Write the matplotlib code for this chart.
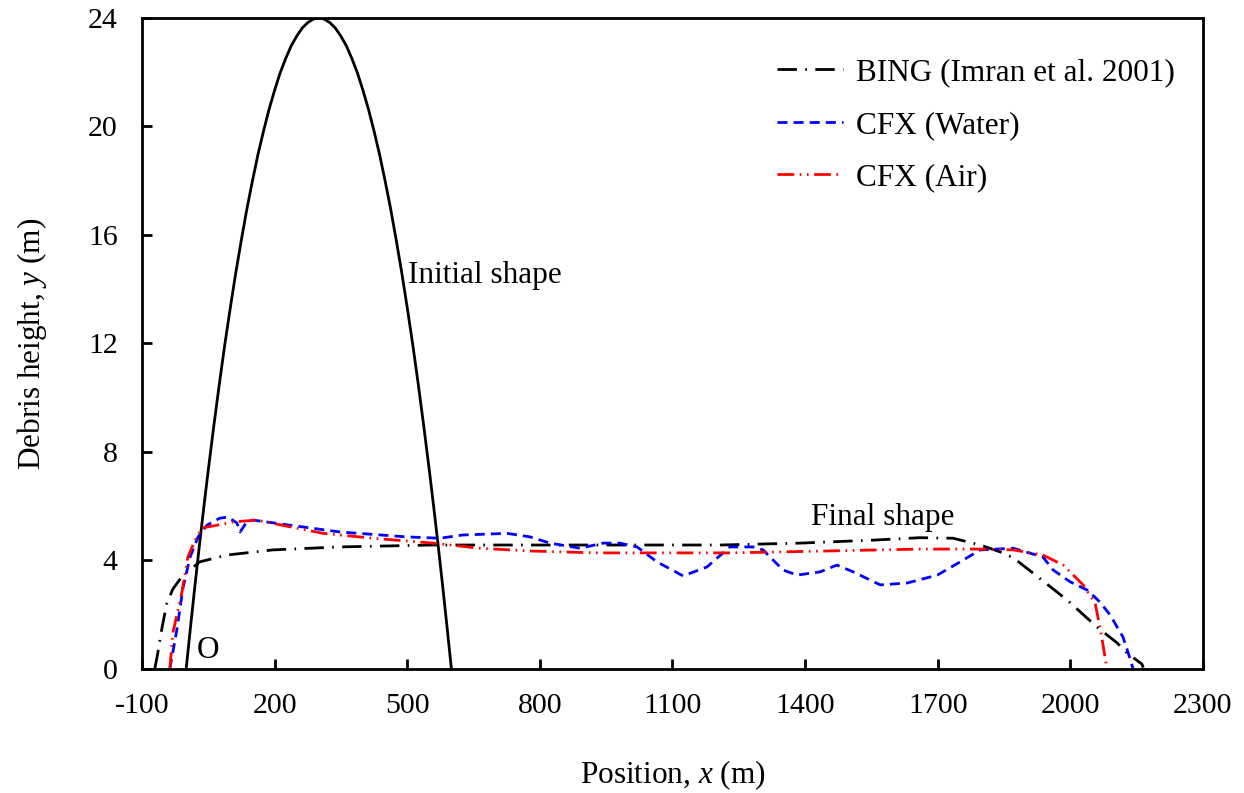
import numpy as np
import matplotlib
matplotlib.use('Agg')
from matplotlib import pyplot as plt
from matplotlib import rcParams

rcParams['font.family'] = 'Liberation Serif'
rcParams['mathtext.fontset'] = 'custom'
rcParams['mathtext.rm'] = 'Liberation Serif'
rcParams['mathtext.it'] = 'Liberation Serif:italic'
rcParams['axes.unicode_minus'] = False
rcParams['font.size'] = 22.5

# initial pile (mound)
init_x = [0, 10, 20, 30, 40, 50, 62.5, 75, 87.5, 100, 112.5, 125, 137.5, 150, 162.5, 175, 187.5,
          200, 212.5, 225, 237.5, 250, 262.5, 275, 287.5, 300,
          312.5, 325, 337.5, 350, 362.5, 375, 387.5, 400, 412.5, 425, 437.5, 450, 462.5,
          475, 487.5, 500, 512.5, 525, 537.5, 550, 560, 570, 580, 590, 600]
init_y = [0, 1.57, 3.09, 4.56, 5.97, 7.33, 8.95, 10.5, 11.97, 13.33, 14.63, 15.83, 16.97, 18.0,
          18.97, 19.83, 20.63, 21.33, 21.97, 22.5, 22.97, 23.33, 23.63, 23.83, 23.96, 24.0,
          23.96, 23.83, 23.63, 23.33, 22.97, 22.5, 21.97, 21.33, 20.63, 19.83, 18.97, 18.0, 16.97,
          15.83, 14.63, 13.33, 11.97, 10.5, 8.95, 7.33, 5.97, 4.56, 3.09, 1.57, 0]

# BING (Imran et al. 2001)
bing_x = [-71, -64, -56, -44, -30, -7, 31, 92, 196, 348, 558, 800, 1000, 1208, 1389,
          1554, 1660, 1735, 1796, 1841, 1871, 1916, 1993, 2060, 2106, 2128, 2162, 2165]
bing_y = [0, 0.6, 1.4, 2.4, 2.95, 3.46, 3.95, 4.2, 4.39, 4.5, 4.57, 4.57, 4.57, 4.57, 4.64,
          4.75, 4.84, 4.82, 4.57, 4.32, 4.1, 3.53, 2.54, 1.55, 0.96, 0.59, 0.18, 0.05]

# CFX (Water)
water_x = [-37, -21, -7, 9, 27, 47, 76, 95, 115, 122, 137, 151, 235, 348, 499, 574,
           626, 726, 778, 823, 891, 943, 981, 1020, 1065, 1124, 1178, 1230, 1282,
           1305, 1350, 1382, 1434, 1472, 1509, 1570, 1631, 1699, 1751, 1796, 1871,
           1938, 1961, 2000, 2038, 2067, 2090, 2119, 2131, 2142]
water_y = [0, 1.44, 3.0, 4.13, 4.87, 5.3, 5.56, 5.6, 5.38, 5.05, 5.42, 5.49, 5.3, 5.05, 4.87, 4.82,
           4.94, 5.0, 4.87, 4.64, 4.45, 4.64, 4.64, 4.5, 3.95, 3.43, 3.76, 4.5, 4.5,
           4.39, 3.65, 3.46, 3.58, 3.83, 3.58, 3.1, 3.17, 3.46, 3.95, 4.39, 4.45,
           4.13, 3.65, 3.21, 2.91, 2.47, 1.99, 1.18, 0.59, 0]

# CFX (Air)
air_x = [-37, -30, -10, 4, 20, 36, 70, 106, 160, 235, 310, 423, 558, 665, 778,
         929, 1079, 1230, 1450, 1660, 1796, 1871, 1938, 1984, 2029, 2056, 2067, 2074, 2083]
air_y = [0, 1.33, 2.8, 4.13, 4.75, 5.2, 5.3, 5.42, 5.49, 5.24, 5.0, 4.82, 4.64, 4.45, 4.35,
         4.28, 4.28, 4.28, 4.35, 4.42, 4.42, 4.39, 4.2, 3.83, 3.1, 2.43, 1.55, 0.88, 0]

fig = plt.figure(figsize=(12.44, 7.93), dpi=100)
ax = fig.add_axes([0.1141, 0.1564, 0.8529, 0.8209])

ax.plot(init_x, init_y, color='k', lw=2, ls='solid')
ax.plot(bing_x, bing_y, color='k', lw=2, ls=(0, (7, 3, 0.6, 3)), label='BING (Imran et al. 2001)')
ax.plot(water_x, water_y, color='#0000ff', lw=2, ls=(0, (3.6, 2.2)), label='CFX (Water)')
ax.plot(air_x, air_y, color='#ff0000', lw=2, ls=(0, (6, 2, 0.6, 2, 0.6, 2)), label='CFX (Air)')

ax.set_xlim(-100, 2300)
ax.set_ylim(0, 24)
ax.set_xticks([-100, 200, 500, 800, 1100, 1400, 1700, 2000, 2300])
ax.set_yticks([0, 4, 8, 12, 16, 20, 24])
ax.tick_params(direction='in', length=7, width=2, labelsize=21.5, pad=17.5)
for s in ax.spines.values():
    s.set_linewidth(2)

ax.set_xlabel('Position, $x$ (m)', labelpad=28.5)
ax.set_ylabel('Debris height, $y$ (m)', labelpad=28)

ax.text(502, 14.5, 'Initial shape', va='center', ha='left')
ax.text(1576, 5.6, 'Final shape', va='center', ha='center')
ax.text(24, 0.15, 'O', va='bottom', ha='left')

ax.legend(loc='upper right', bbox_to_anchor=(0.988, 0.962), frameon=False,
          handlelength=2.1, handletextpad=0.42, labelspacing=0.75, borderpad=0)

plt.savefig('out.png', dpi=100)
